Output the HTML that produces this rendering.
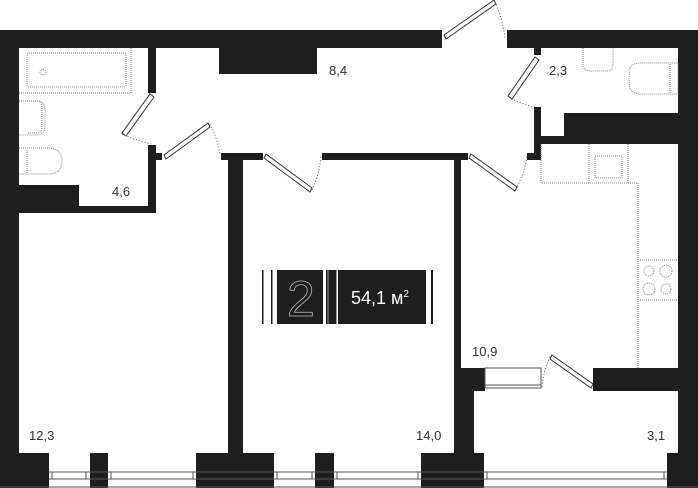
<!DOCTYPE html>
<html><head><meta charset="utf-8"><style>
html,body{margin:0;padding:0;background:#fff;width:698px;height:488px;overflow:hidden}
svg{display:block}
text{font-family:"Liberation Sans",sans-serif;fill:#333;font-size:13px}
</style></head><body>
<svg width="698" height="488" viewBox="0 0 698 488" xmlns="http://www.w3.org/2000/svg">
<g fill="#1e1e1e">
<rect x="0" y="30" width="442" height="18"/>
<rect x="507" y="30" width="191" height="18"/>
<rect x="0" y="30" width="19" height="458"/>
<rect x="678" y="30" width="20" height="458"/>
<rect x="148" y="48" width="8" height="45"/>
<rect x="148" y="145" width="8" height="68"/>
<rect x="156" y="153" width="6" height="7"/>
<rect x="19" y="185" width="60" height="28"/>
<rect x="19" y="206" width="137" height="7"/>
<rect x="219" y="48" width="98" height="26"/>
<rect x="221" y="153" width="42" height="7"/>
<rect x="228" y="153" width="15" height="300"/>
<rect x="322" y="153" width="146" height="7"/>
<rect x="454" y="153" width="7" height="300"/>
<rect x="534" y="48" width="7" height="7"/>
<rect x="534" y="107" width="7" height="53"/>
<rect x="527" y="153" width="14" height="7"/>
<rect x="541" y="136" width="137" height="8"/>
<rect x="564" y="113" width="114" height="31"/>
<rect x="454" y="368" width="31" height="23"/>
<rect x="454" y="368" width="20" height="120"/>
<rect x="593" y="368" width="105" height="23"/>
<rect x="0" y="453" width="49" height="35"/>
<rect x="90" y="453" width="18" height="35"/>
<rect x="196" y="453" width="78" height="35"/>
<rect x="315" y="453" width="19" height="35"/>
<rect x="421" y="453" width="63" height="35"/>
<rect x="667" y="453" width="31" height="35"/>
</g>
<g stroke="#555" stroke-width="1" fill="none">
<line x1="0" y1="487" x2="698" y2="487"/>
<line x1="49" y1="472" x2="667" y2="472"/>
<line x1="49" y1="479" x2="667" y2="479"/>
<line x1="52" y1="472" x2="52" y2="479"/><line x1="86" y1="472" x2="86" y2="479"/>
<line x1="111" y1="472" x2="111" y2="479"/><line x1="193" y1="472" x2="193" y2="479"/>
<line x1="277" y1="472" x2="277" y2="479"/><line x1="312" y1="472" x2="312" y2="479"/>
<line x1="337" y1="472" x2="337" y2="479"/><line x1="418" y1="472" x2="418" y2="479"/>
<line x1="487" y1="472" x2="487" y2="479"/><line x1="664" y1="472" x2="664" y2="479"/>
<rect x="485" y="368" width="56" height="20"/>
<line x1="485" y1="385" x2="541" y2="385"/>
</g>
<g stroke="#333" stroke-width="1" fill="#fff">
<polygon points="150,94 154,97 126,136 122,133"/>
<polygon points="164,155 166,159 210,127 208,123"/>
<polygon points="266,154 264,158 310,192 312,188"/>
<polygon points="444,35 446,39 496,4 494,0"/>
<polygon points="535,57 539,60 512,99 508,96"/>
<polygon points="471,154 469,158 515,191 517,187"/>
<polygon points="593,384 591,388 550,359 552,355"/>
</g>
<g stroke="#666" stroke-width="1" fill="none" stroke-dasharray="1,2">
<path d="M122,134 Q140,142 152,144"/>
<path d="M210,124 Q218,140 220,155"/>
<path d="M312,190 Q320,172 321,156"/>
<path d="M495,2 Q503,20 505,38"/>
<path d="M509,97 Q522,105 536,107"/>
<path d="M516,189 Q525,172 527,156"/>
<path d="M550,357 Q543,372 542,388"/>
</g>
<g stroke="#888" stroke-width="1" fill="none" stroke-dasharray="1,1">
<rect x="27" y="53" width="99" height="34" rx="2"/>
<line x1="19" y1="93" x2="131" y2="93"/><line x1="131" y1="48" x2="131" y2="93"/>
<circle cx="43" cy="72" r="3"/>
<path d="M19,101 H37 Q45,101 45,110 V126 Q45,135 37,135 H19"/>
<path d="M27,101 H38 Q42,101 42,108 V128 Q42,133 36,133 H27"/>
<path d="M19,148 H50 Q62,150 62,161 Q62,173 50,174 H19"/>
<line x1="27" y1="150" x2="27" y2="173"/>
<path d="M583,48 V64 Q583,71 590,71 H607 Q613,71 613,64 V48"/>
<path d="M630,68 Q633,63 640,63 H678 V94 H640 Q633,94 630,88 Q628,81 630,68"/>
<line x1="670" y1="64" x2="670" y2="93"/>
<path d="M541,144 V183 H638 V368"/>
<line x1="589" y1="144" x2="589" y2="183"/><line x1="628" y1="144" x2="628" y2="183"/>
<rect x="595" y="156" width="27" height="22"/>
<line x1="638" y1="260" x2="678" y2="260"/><line x1="638" y1="300" x2="678" y2="300"/>
<circle cx="649" cy="271" r="5"/><circle cx="666" cy="271" r="6"/>
<circle cx="649" cy="289" r="6"/><circle cx="666" cy="289" r="5"/>
</g>
<g fill="#1e1e1e">
<rect x="262" y="270" width="1.5" height="54"/>
<rect x="271" y="270" width="1.5" height="54"/>
<rect x="277" y="270" width="46" height="54"/>
<rect x="326" y="270" width="11" height="54"/>
<rect x="338" y="270" width="88" height="54"/>
<rect x="431" y="270" width="2" height="54"/>
</g>
<rect x="327.5" y="270" width="1" height="54" fill="#999"/>
<rect x="336" y="270" width="1" height="54" fill="#999"/>
<text x="287" y="316" style="font-size:50px;fill:none;stroke:#bbb;stroke-width:0.8">2</text>
<text x="351" y="304" style="font-size:18px;fill:#fff">54,1 м<tspan dy="-7" style="font-size:10px">2</tspan></text>
<text x="329" y="75">8,4</text>
<text x="549" y="75">2,3</text>
<text x="112" y="196">4,6</text>
<text x="29" y="440">12,3</text>
<text x="416" y="440">14,0</text>
<text x="472" y="356">10,9</text>
<text x="647" y="440">3,1</text>
</svg>
</body></html>
